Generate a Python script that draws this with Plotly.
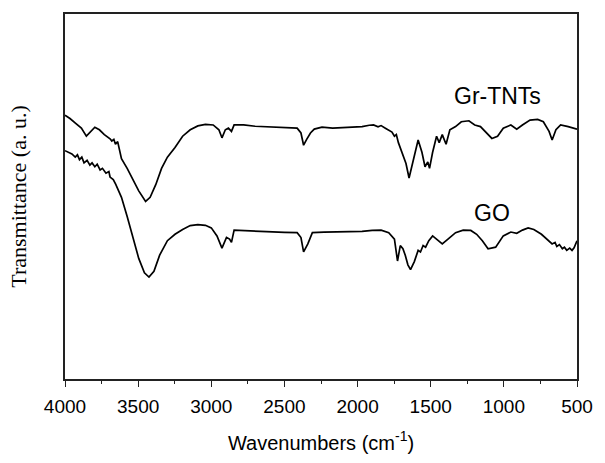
import plotly.graph_objects as go

# Wavenumbers (cm^-1) and transmittance (a.u.)
gr_wn = [4000, 3966, 3927, 3888, 3854, 3823, 3796, 3765, 3731, 3692, 3680, 3666, 3655, 3640, 3625, 3614,
         3575, 3535, 3496, 3449, 3418, 3379, 3340, 3300, 3248, 3196, 3144, 3092, 3040, 2987, 2948, 2927,
         2904, 2883, 2862, 2844, 2779, 2700, 2622, 2520, 2413, 2387, 2369, 2348, 2322, 2296, 2243, 2170,
         2100, 2030, 1969, 1920, 1891, 1860, 1839, 1810, 1787, 1765, 1748, 1735, 1721, 1695, 1669, 1648,
         1617, 1586, 1560, 1539, 1520, 1508, 1487, 1460, 1442, 1421, 1395, 1369, 1330, 1291, 1239, 1199,
         1160, 1121, 1082, 1043, 1004, 952, 912, 873, 821, 769, 730, 691, 670, 644, 612, 560, 500]
gr_t = [820, 810, 795, 780, 755, 770, 783, 775, 760, 747, 740, 745, 730, 738, 700, 685,
        655, 620, 585, 552, 565, 605, 655, 690, 720, 755, 775, 787, 792, 790, 775, 750,
        775, 780, 770, 790, 790, 786, 785, 783, 780, 765, 727, 745, 765, 777, 783, 780,
        782, 784, 785, 789, 790, 784, 788, 780, 775, 768, 755, 760, 735, 705, 670, 625,
        685, 743, 705, 660, 675, 655, 705, 755, 735, 760, 730, 775, 785, 800, 803, 790,
        785, 765, 748, 755, 780, 790, 777, 790, 805, 807, 800, 770, 743, 775, 790, 785, 777]

go_wn = [4000, 3953, 3930, 3915, 3901, 3885, 3870, 3849, 3830, 3815, 3796, 3780, 3760, 3744, 3720, 3700,
         3692, 3670, 3653, 3614, 3575, 3535, 3496, 3457, 3426, 3392, 3353, 3300, 3248, 3196, 3144, 3092,
         3040, 3000, 2961, 2927, 2896, 2875, 2862, 2844, 2752, 2622, 2500, 2413, 2387, 2369, 2340, 2309,
         2230, 2100, 1969, 1900, 1839, 1787, 1748, 1727, 1708, 1690, 1674, 1656, 1638, 1612, 1586, 1570,
         1552, 1535, 1513, 1487, 1460, 1421, 1382, 1330, 1278, 1226, 1186, 1147, 1108, 1056, 1004, 952,
         912, 873, 834, 795, 743, 691, 670, 650, 638, 620, 600, 586, 570, 550, 534, 520, 513, 500]
go_t = [710, 700, 690, 697, 682, 690, 672, 680, 665, 672, 660, 668, 650, 655, 640, 645,
        628, 620, 605, 565, 505, 435, 375, 330, 317, 335, 385, 430, 450, 465, 477, 480,
        478, 470, 445, 407, 440, 435, 425, 463, 460, 458, 456, 455, 440, 395, 420, 455,
        457, 457, 459, 462, 463, 455, 435, 367, 415, 405, 385, 355, 340, 365, 400, 395,
        415, 410, 430, 445, 435, 420, 435, 455, 463, 462, 450, 430, 405, 410, 445, 457,
        453, 463, 470, 465, 450, 430, 420, 425, 412, 418, 405, 410, 400, 407, 400, 408, 415, 430]

labels = ["Gr-TNTs", "GO"]
label_x = [1043, 1083]
label_y = [880, 515]
x_ticks = [4000, 3500, 3000, 2500, 2000, 1500, 1000, 500]

fig = go.Figure()
fig.add_trace(go.Scatter(x=gr_wn, y=gr_t, mode="lines", line=dict(color="black", width=1.7),
                         name=labels[0], showlegend=False))
fig.add_trace(go.Scatter(x=go_wn, y=go_t, mode="lines", line=dict(color="black", width=1.7),
                         name=labels[1], showlegend=False))

for t, x, y in zip(labels, label_x, label_y):
    fig.add_annotation(x=x, y=y, text=t, showarrow=False,
                       font=dict(family="Liberation Sans, Arial", size=23, color="black"))

fig.update_layout(
    width=605, height=463,
    margin=dict(l=65, r=21, t=13, b=71),
    paper_bgcolor="white", plot_bgcolor="white",
    xaxis=dict(range=[4000, 500], tickvals=x_ticks, ticktext=[str(v) for v in x_ticks],
               showline=True, linecolor="#222", linewidth=1.8, mirror=True,
               ticks="outside", ticklen=6, tickwidth=1.2, tickcolor="#222",
               ticklabelstandoff=3,
               minor=dict(dtick=250, ticks="outside", ticklen=3, tickcolor="#222"),
               showgrid=False, zeroline=False,
               tickfont=dict(family="Liberation Sans, Arial", size=19, color="black"),
               title=dict(text="Wavenumbers (cm<sup>-1</sup>)", standoff=20,
                          font=dict(family="Liberation Sans, Arial", size=20, color="black"))),
    yaxis=dict(range=[0, 1135], showticklabels=False, ticks="",
               showline=True, linecolor="#222", linewidth=1.8, mirror=True,
               showgrid=False, zeroline=False,
               title=dict(text="Transmittance (a. u.)", standoff=30,
                          font=dict(family="Liberation Serif, Times New Roman", size=22, color="black"))),
)

fig.write_html("out.html")
